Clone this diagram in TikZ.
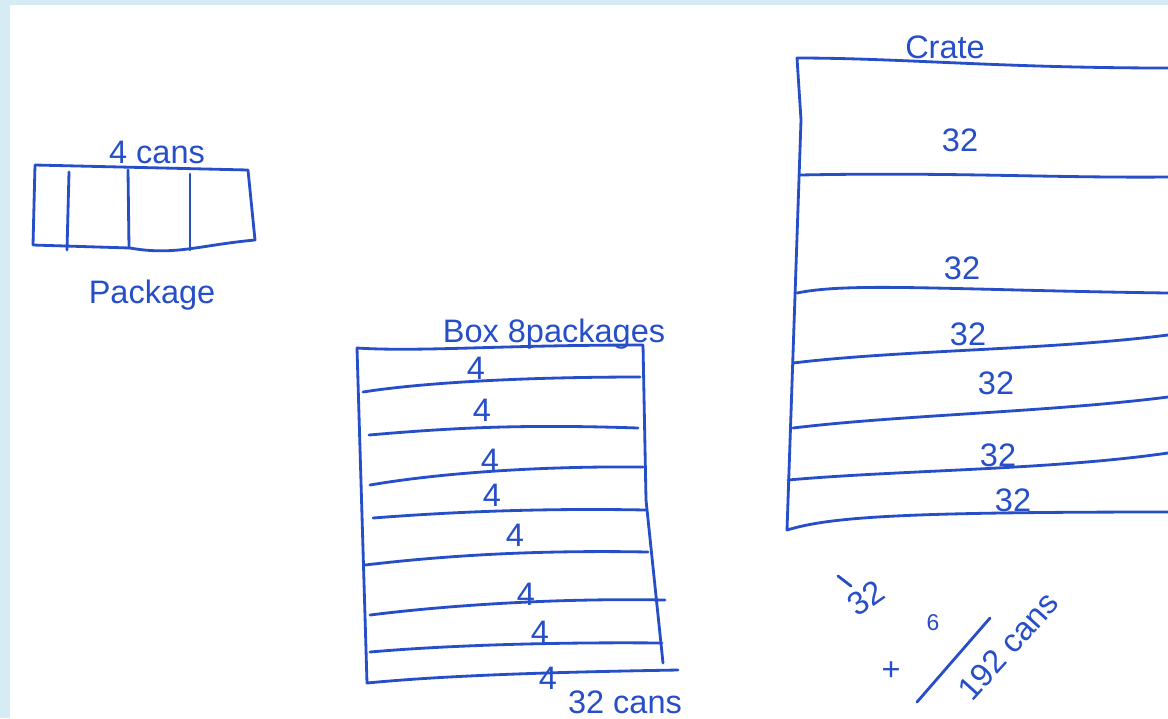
\documentclass[tikz,border=0pt]{standalone}
\usepackage{fontspec}
\setmainfont{Liberation Sans}
\definecolor{ink}{RGB}{38,78,200}
\definecolor{frame}{RGB}{214,236,245}
\tikzset{
  pen/.style={draw=ink, line width=1.6pt, line cap=round, line join=round},
  hand/.style={text=ink, font=\fontsize{18.5}{20}\selectfont, inner sep=0pt}
}
\begin{document}
\begin{tikzpicture}[x=0.02cm,y=-0.02cm]
	% paper
	\fill[frame] (0,0) rectangle (1168,718);
	\fill[white] (10,5) rectangle (1168,718);
	\useasboundingbox (0,0) rectangle (1168,718);

	% package
	\draw[pen] (35,165) -- (248,170) -- (255,240) .. controls (200,245) and (175,256) .. (130,248) -- (33,245) -- cycle;
	\draw[pen] (69,172) -- (67,250);
	\draw[pen] (128,170) -- (129,248);
	\draw[pen] (190,174) -- (190,250);
	\node[hand] (pkgcans) at (157,152) {4 cans};
	\node[hand] (pkg) at (152,295) {Package};

	% box of packages
	\draw[pen] (357,348) .. controls (420,352) and (500,345) .. (643,345) -- (646,500) -- (663,663);
	\draw[pen] (357,348) -- (367,683) .. controls (450,675) and (560,672) .. (678,670);
	\draw[pen] (363,392) .. controls (420,383) and (520,377) .. (640,377);
	\draw[pen] (369,435) .. controls (450,428) and (520,424) .. (638,428);
	\draw[pen] (370,485) .. controls (440,473) and (540,466) .. (643,467);
	\draw[pen] (373,518) .. controls (450,512) and (540,508) .. (646,510);
	\draw[pen] (365,565) .. controls (450,555) and (540,550) .. (648,552);
	\draw[pen] (370,615) .. controls (450,605) and (560,598) .. (665,600);
	\draw[pen] (370,652) .. controls (450,645) and (560,642) .. (662,643);
	\node[hand] (boxtitle) at (554,334) {Box 8packages};
	\foreach \x/\y [count=\i] in {476/368, 482/410, 490/460, 492/495, 515/535, 526/594, 540/632, 548/678}
		\node[hand] (four\i) at (\x,\y) {4};
	\node[hand] (boxcans) at (625,702) {32 cans};

	% crate
	\draw[pen] (1168,68) .. controls (1000,68) and (900,58) .. (797,58) -- (801,120) -- (787,530) .. controls (830,517) and (900,512) .. (1168,512);
	\draw[pen] (800,175) .. controls (950,172) and (1050,178) .. (1168,177);
	\draw[pen] (797,293) .. controls (850,282) and (950,290) .. (1168,293);
	\draw[pen] (793,363) .. controls (900,350) and (1050,350) .. (1168,335);
	\draw[pen] (793,428) .. controls (900,415) and (1050,412) .. (1168,397);
	\draw[pen] (788,480) .. controls (900,470) and (1050,470) .. (1168,453);
	\node[hand] (cratetitle) at (945,47) {Crate};
	\foreach \x/\y [count=\i] in {960/140, 962/268, 968/334, 996/383, 998/455, 1013/500}
		\node[hand] (tt\i) at (\x,\y) {32};

	% total
	\draw[pen] (838,576) -- (851,586);
	\node[hand, rotate=35] (factor) at (866,598) {32};
	\node[hand, font=\fontsize{13}{14}\selectfont] (times) at (933,623) {6};
	\node[hand] (plus) at (891,671) {+};
	\draw[pen] (917,702) -- (990,618);
	\node[hand, rotate=48] (total) at (1008,646) {192 cans};
\end{tikzpicture}
\end{document}
